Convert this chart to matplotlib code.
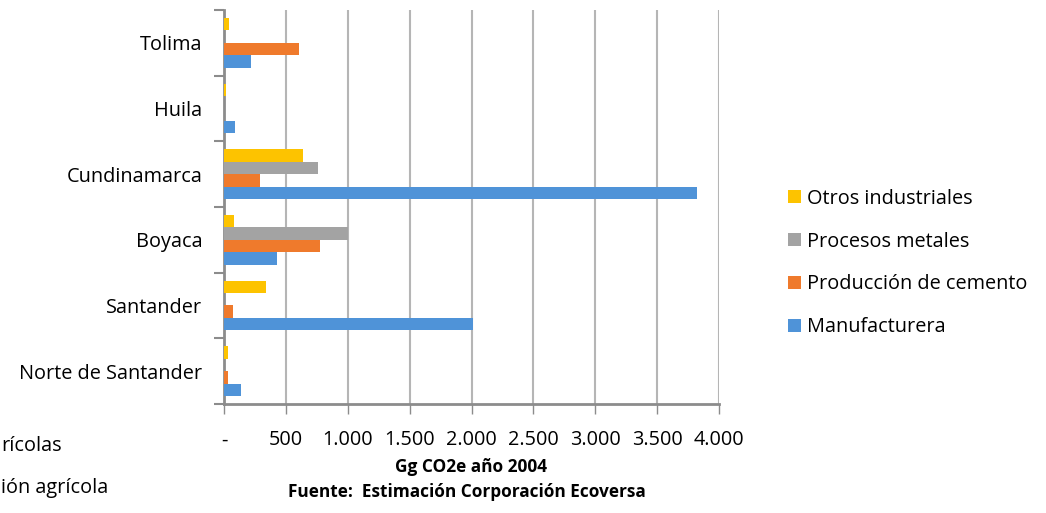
import matplotlib
matplotlib.use('Agg')
import matplotlib.pyplot as plt
import numpy as np

# categories bottom -> top
departamentos = ["Norte de Santander", "Santander", "Boyaca",
                 "Cundinamarca", "Huila", "Tolima"]
manufacturera = [138, 2016, 429, 3822, 89, 219]
cemento = [32, 73, 777, 291, 0, 607]
metales = [0, 0, 1005, 761, 0, 0]
otros = [32, 340, 81, 640, 20, 40]

series = [
    ("Manufacturera", manufacturera, "#4f93d8"),
    ("Producción de cemento", cemento, "#ef7a2c"),
    ("Procesos metales", metales, "#a3a3a3"),
    ("Otros industriales", otros, "#fdc300"),
]
xticks = [0, 500, 1000, 1500, 2000, 2500, 3000, 3500, 4000]
xticklabels = ["-", "500", "1.000", "1.500", "2.000", "2.500", "3.000",
               "3.500", "4.000"]

plt.rcParams['font.family'] = ['Open Sans', 'DejaVu Sans']
fs = 14.3

fig = plt.figure(figsize=(10.46, 5.13), dpi=100)
ax = fig.add_axes([224 / 1046, 1 - 404 / 513, (719 - 224) / 1046,
                   (404 - 10) / 513])

y = np.arange(len(departamentos))
h = 0.19
for i, (name, vals, col) in enumerate(series):
    ax.barh(y + (i - 1.5) * h, vals, height=h, color=col, label=name,
            zorder=3)

ax.set_xlim(0, 4000)
ax.set_ylim(-0.5, len(departamentos) - 0.5)
ax.set_xticks(xticks)
ax.set_xticklabels(xticklabels, fontsize=fs)
ax.set_yticks(y)
ax.set_yticklabels(departamentos, fontsize=fs)
ax.set_yticks(np.arange(len(departamentos) + 1) - 0.5, minor=True)
ax.tick_params(axis='y', which='major', length=0, pad=15.5)
ax.tick_params(axis='y', which='minor', length=7, width=1.5, color='#8c8c8c')
ax.tick_params(axis='x', length=7, width=1, color='#8c8c8c', pad=12)
ax.grid(axis='x', color='#b5b5b5', linewidth=1.5, zorder=0)
for s in ['top', 'right']:
    ax.spines[s].set_visible(False)
for s in ['left', 'bottom']:
    ax.spines[s].set_color('#8c8c8c')
    ax.spines[s].set_linewidth(2)

handles, labels = ax.get_legend_handles_labels()
fig.legend(handles[::-1], labels[::-1], loc='center left',
           bbox_to_anchor=(770 / 1046, 1 - 263 / 513), frameon=False,
           fontsize=fs, handlelength=0.65, handleheight=0.65,
           handletextpad=0.3, labelspacing=1.15)

fig.text(471 / 1046, 1 - 467 / 513, "Gg CO2e año 2004", ha='center',
         va='center', fontsize=12.4, fontweight='bold')
fig.text(467 / 1046, 1 - 492 / 513,
         "Fuente:  Estimación Corporación Ecoversa", ha='center',
         va='center', fontsize=12.4, fontweight='bold')

# cut-off text from the neighbouring chart
fig.text(0.001, 1 - 446 / 513, "rícolas", ha='left', va='center',
         fontsize=fs)
fig.text(0.001, 1 - 488 / 513, "ión agrícola", ha='left', va='center',
         fontsize=fs)

fig.savefig("out.png")
